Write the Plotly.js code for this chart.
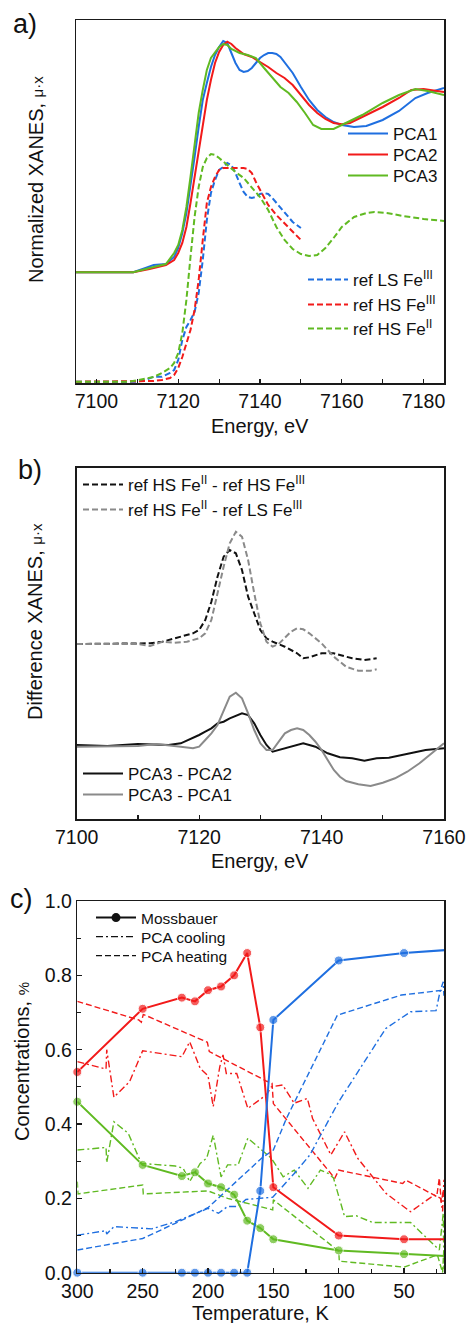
<!DOCTYPE html>
<html><head><meta charset="utf-8">
<script src="https://cdn.plot.ly/plotly-3.0.1.min.js"></script>
<style>html,body{margin:0;padding:0;background:#fff}#chart{width:468px;height:1323px}</style>
</head><body><div id="chart"></div>
<script>
// ---------- Panel a: normalized XANES (arbitrary offset units) ----------
const ePCA1 = [7095,7109,7112,7114,7117,7119,7120,7121,7122,7123,7124,7125,7126,7127,7128,7129,7130,7131,7132,7133,7134,7135,7136,7137,7138,7139,7140,7141,7142,7143,7144,7145,7146,7147,7148,7150,7152,7154,7156,7158,7160,7163,7166,7170,7174,7178,7181,7185];
const pca1 = [1.107,1.107,1.15,1.18,1.19,1.26,1.35,1.50,1.70,1.96,2.26,2.56,2.83,3.00,3.16,3.28,3.36,3.42,3.40,3.30,3.20,3.13,3.11,3.12,3.15,3.20,3.25,3.28,3.30,3.30,3.29,3.26,3.21,3.16,3.10,2.96,2.83,2.73,2.66,2.61,2.58,2.56,2.57,2.63,2.72,2.85,2.90,2.95];
const ePCA2 = [7095,7109,7113,7117,7119,7120,7121,7122,7123,7124,7125,7126,7127,7128,7129,7130,7131,7132,7133,7134,7136,7138,7140,7142,7144,7146,7148,7150,7152,7154,7156,7158,7160,7162,7166,7170,7174,7177,7180,7185];
const pca2 = [1.107,1.107,1.14,1.18,1.23,1.30,1.40,1.56,1.80,2.06,2.33,2.60,2.83,3.03,3.20,3.31,3.38,3.413,3.39,3.35,3.29,3.26,3.21,3.16,3.10,3.05,2.98,2.88,2.78,2.70,2.64,2.60,2.587,2.60,2.68,2.76,2.85,2.93,2.94,2.91];
const ePCA3 = [7095,7109,7114,7117,7119,7120,7121,7122,7123,7124,7125,7126,7127,7128,7129,7130,7131,7132,7133,7135,7137,7139,7141,7143,7145,7147,7149,7151,7153,7155,7158,7161,7165,7170,7174,7178,7181,7185];
const pca3 = [1.107,1.107,1.16,1.19,1.30,1.38,1.53,1.76,2.06,2.40,2.70,2.93,3.13,3.25,3.31,3.36,3.39,3.38,3.34,3.30,3.28,3.25,3.15,3.05,2.96,2.90,2.81,2.70,2.58,2.54,2.54,2.60,2.68,2.80,2.88,2.94,2.92,2.88];
const eRefLS3 = [7095,7110,7112,7114,7116,7118,7119,7120,7121,7122,7123,7124,7125,7126,7127,7128,7129,7130,7131,7132,7133,7134,7135,7136,7137,7138,7139,7140,7141,7142,7143,7144,7146,7148,7150];
const refLS3 = [0.013,0.013,0.03,0.063,0.063,0.10,0.13,0.23,0.43,0.56,0.63,0.71,0.90,1.23,1.63,1.90,2.03,2.13,2.16,2.20,2.18,2.10,2.00,1.91,1.86,1.85,1.86,1.89,1.90,1.89,1.85,1.80,1.70,1.61,1.55];
const eRefHS3 = [7095,7112,7114,7116,7118,7119,7120,7121,7122,7123,7124,7125,7126,7127,7128,7129,7130,7131,7134,7136,7137,7138,7139,7140,7141,7142,7144,7146,7148,7150];
const refHS3 = [0.013,0.013,0.02,0.03,0.05,0.08,0.15,0.26,0.40,0.53,0.73,1.03,1.43,1.80,1.96,2.06,2.13,2.15,2.15,2.15,2.14,2.10,2.01,1.93,1.85,1.78,1.68,1.60,1.51,1.43];
const eRefHS2 = [7095,7108,7110,7112,7114,7116,7118,7119,7120,7121,7122,7123,7124,7125,7126,7127,7128,7129,7130,7132,7134,7136,7138,7140,7142,7144,7146,7148,7150,7152,7154,7156,7158,7160,7163,7166,7168,7171,7175,7180,7185];
const refHS2 = [0.013,0.013,0.027,0.04,0.06,0.10,0.15,0.20,0.30,0.50,0.83,1.26,1.66,1.96,2.16,2.25,2.29,2.28,2.25,2.18,2.11,2.05,1.96,1.86,1.73,1.56,1.43,1.34,1.29,1.27,1.28,1.35,1.45,1.56,1.66,1.70,1.71,1.70,1.67,1.64,1.62];

// ---------- Panel b: difference XANES ----------
const eD1 = [7100,7112,7114,7116,7118,7119,7120,7121,7122,7123,7124,7125,7126,7127,7128,7129,7130,7131,7132,7134,7136,7137,7138,7140,7142,7143,7145,7147,7149];
const hs2MinusHs3 = [1.75,1.757,1.773,1.807,1.84,1.857,1.89,1.99,2.173,2.423,2.623,2.69,2.657,2.49,2.223,2.057,1.89,1.807,1.773,1.723,1.657,1.607,1.617,1.657,1.657,1.64,1.607,1.59,1.607];
const eD2 = [7100,7110,7112,7114,7116,7118,7120,7121,7122,7123,7124,7125,7126,7127,7128,7129,7130,7131,7132,7133,7134,7135,7136,7137,7138,7140,7142,7144,7146,7148,7149];
const hs2MinusLs3 = [1.75,1.75,1.73,1.773,1.763,1.773,1.807,1.857,1.99,2.257,2.523,2.757,2.873,2.823,2.59,2.257,1.957,1.773,1.723,1.75,1.807,1.873,1.907,1.897,1.857,1.757,1.623,1.523,1.483,1.483,1.497];
const eD3 = [7100,7105,7110,7115,7117,7119,7120,7121,7122,7123,7124,7125,7126,7127,7128,7129,7130,7131,7132,7133,7135,7137,7139,7141,7143,7145,7147,7149,7151,7153,7155,7157,7160];
const pca3MinusPca2 = [0.74,0.73,0.75,0.74,0.757,0.807,0.84,0.873,0.907,0.957,0.973,1.007,1.03,1.057,1.04,0.957,0.84,0.74,0.673,0.69,0.723,0.757,0.723,0.657,0.617,0.607,0.583,0.607,0.613,0.64,0.667,0.69,0.707];
const eD4 = [7100,7110,7113,7115,7117,7119,7120,7121,7122,7123,7124,7125,7126,7127,7128,7129,7130,7131,7132,7133,7134,7135,7136,7137,7138,7139,7140,7141,7142,7143,7144,7146,7148,7150,7152,7154,7156,7158,7160];
const pca3MinusPca1 = [0.723,0.73,0.75,0.74,0.723,0.707,0.723,0.79,0.857,0.94,1.09,1.223,1.263,1.207,1.057,0.89,0.757,0.69,0.69,0.773,0.857,0.89,0.907,0.89,0.84,0.773,0.69,0.59,0.49,0.423,0.38,0.347,0.33,0.363,0.407,0.473,0.557,0.657,0.757];

// ---------- Panel c: concentrations vs temperature ----------
const tMoss = [300,250,220,210,200,190,180,170,160,150,100,50,10];
const mossHS3 = [0.54,0.71,0.74,0.73,0.76,0.77,0.80,0.86,0.66,0.23,0.10,0.09,0.09];
const mossLS3 = [0,0,0,0,0,0,0,0,0.22,0.68,0.84,0.86,0.87];
const mossHS2 = [0.46,0.29,0.26,0.27,0.24,0.23,0.21,0.14,0.12,0.09,0.06,0.05,0.043];

const tCoolRed = [300,278,277.5,272,260,250,220,214,206,200,196,191,188.5,186,178,169.5,155.5,151.5,143,134,124,120,106,95.5,85.5,64,45,27,22,20.5,19.5];
const coolRed = [0.568,0.548,0.60,0.472,0.514,0.597,0.581,0.621,0.55,0.53,0.447,0.554,0.586,0.536,0.536,0.442,0.478,0.50,0.505,0.456,0.469,0.415,0.317,0.379,0.308,0.214,0.164,0.209,0.20,0.165,0.25];
const tHeatRed = [300,253,251,249.5,200.5,199,155,151,150,103,100,51,48.5,25,23,21.5,20];
const heatRed = [0.73,0.68,0.674,0.695,0.62,0.595,0.515,0.51,0.455,0.254,0.276,0.24,0.249,0.205,0.255,0.19,0.22];
const tCoolGreen = [300,278,277.5,272,261,251,225,219,214,206,201,196,190,185,177,169.5,151.5,142.5,134,123.5,114,108,104,95.5,86.5,74,45,23,20,19.5];
const coolGreen = [0.33,0.337,0.296,0.406,0.375,0.294,0.287,0.281,0.245,0.294,0.308,0.37,0.258,0.29,0.29,0.362,0.308,0.258,0.276,0.227,0.276,0.267,0.255,0.151,0.153,0.135,0.135,0.061,0.16,0.01];
const tHeatGreen = [300,299.5,250,249.5,200,185,167,150.5,150,100,99.5,50,24.5,20.5,19.6];
const heatGreen = [0.245,0.212,0.236,0.212,0.22,0.20,0.184,0.169,0.196,0.058,0.031,0.015,0.048,0.0,0.06];
const tCoolBlue = [300,278,277.5,272,243,225,200,192,185,177,171,150.5,134,122,100,83,64,45,25.5,22.5,20,19.5];
const coolBlue = [0.101,0.113,0.104,0.124,0.118,0.137,0.173,0.16,0.178,0.178,0.197,0.203,0.267,0.317,0.46,0.554,0.657,0.702,0.705,0.756,0.783,0.745];
const tHeatBlue = [300,250,225,200,159,150,140,115,101,52,23,20];
const heatBlue = [0.061,0.092,0.133,0.175,0.308,0.33,0.415,0.595,0.693,0.747,0.759,0.76];

const legendNamesA1 = ['PCA1','PCA2','PCA3'];
const legendNamesA2 = ['ref LS Fe<sup>III</sup>','ref HS Fe<sup>III</sup>','ref HS Fe<sup>II</sup>'];
const legendNamesB1 = ['ref HS Fe<sup>II</sup> - ref HS Fe<sup>III</sup>','ref HS Fe<sup>II</sup> - ref LS Fe<sup>III</sup>'];
const legendNamesB2 = ['PCA3 - PCA2','PCA3 - PCA1'];
const legendNamesC = ['Mossbauer','PCA cooling','PCA heating'];

// ---------- styling ----------
const BLUE = '#1f6fe0', RED = '#f21a1a', GREEN = '#60ba22', GRAY = '#8a8a8a', BLACK = '#111111';
const FONT = '"Liberation Sans", Arial, sans-serif';
const DASH = '6px,3px';
const DASHDOT = '7px,3px,2px,3px';
const W = 468, H = 1323;
const px = v => v / W, py = v => 1 - v / H;

// one legend box per entry so every entry sits where the reference puts it
const legendSlots = [];
function slot(xPix, yPix, size) {
  legendSlots.push({x: px(xPix), y: py(yPix), size: size});
  const n = legendSlots.length;
  return n === 1 ? 'legend' : 'legend' + n;
}

function ln(x, y, color, dash, width, xa, ya, name, legend) {
  return {type: 'scatter', mode: 'lines', x: x, y: y, xaxis: xa, yaxis: ya,
    line: {color: color, width: width, dash: dash || 'solid'}, name: name || '',
    showlegend: !!legend, legend: legend || 'legend', hoverinfo: 'skip'};
}

const traces = [
  ln(ePCA1, pca1, BLUE, 'solid', 2, 'x', 'y', legendNamesA1[0], slot(343, 134, 17)),
  ln(ePCA2, pca2, RED, 'solid', 2, 'x', 'y', legendNamesA1[1], slot(343, 155, 17)),
  ln(ePCA3, pca3, GREEN, 'solid', 2, 'x', 'y', legendNamesA1[2], slot(343, 176, 17)),
  ln(eRefLS3, refLS3, BLUE, DASH, 2, 'x', 'y', legendNamesA2[0], slot(303, 280, 17)),
  ln(eRefHS3, refHS3, RED, DASH, 2, 'x', 'y', legendNamesA2[1], slot(303, 305, 17)),
  ln(eRefHS2, refHS2, GREEN, DASH, 2, 'x', 'y', legendNamesA2[2], slot(303, 329, 17)),

  ln(eD1, hs2MinusHs3, BLACK, DASH, 2, 'x2', 'y2', legendNamesB1[0], slot(78, 485, 17)),
  ln(eD2, hs2MinusLs3, GRAY, DASH, 2, 'x2', 'y2', legendNamesB1[1], slot(78, 510, 17)),
  ln(eD3, pca3MinusPca2, BLACK, 'solid', 2, 'x2', 'y2', legendNamesB2[0], slot(78, 774, 17)),
  ln(eD4, pca3MinusPca1, GRAY, 'solid', 2, 'x2', 'y2', legendNamesB2[1], slot(78, 795, 17)),

  ln(tCoolRed, coolRed, RED, DASHDOT, 1.4, 'x3', 'y3'),
  ln(tHeatRed, heatRed, RED, DASH, 1.4, 'x3', 'y3'),
  ln(tCoolGreen, coolGreen, GREEN, DASHDOT, 1.4, 'x3', 'y3'),
  ln(tHeatGreen, heatGreen, GREEN, DASH, 1.4, 'x3', 'y3'),
  ln(tCoolBlue, coolBlue, BLUE, DASHDOT, 1.4, 'x3', 'y3'),
  ln(tHeatBlue, heatBlue, BLUE, DASH, 1.4, 'x3', 'y3')
];

const xMin = 19.2;
[[mossHS3, RED], [mossHS2, GREEN], [mossLS3, BLUE]].forEach(([vals, c]) => {
  traces.push({type: 'scatter', mode: 'lines+markers', x: tMoss, y: vals, xaxis: 'x3', yaxis: 'y3',
    line: {color: c, width: 2}, cliponaxis: false,
    marker: {color: c, size: tMoss.map(t => t > xMin ? 9 : 0)}, showlegend: false, hoverinfo: 'skip'});
});
// legend-only entries for panel c
traces.push({type: 'scatter', mode: 'lines+markers', x: [null], y: [null], xaxis: 'x3', yaxis: 'y3',
  line: {color: BLACK, width: 2}, marker: {color: BLACK, size: 9}, name: legendNamesC[0], legend: slot(91, 918, 15.5)});
traces.push({type: 'scatter', mode: 'lines', x: [null], y: [null], xaxis: 'x3', yaxis: 'y3',
  line: {color: BLACK, width: 1.4, dash: DASHDOT}, name: legendNamesC[1], legend: slot(91, 937, 15.5)});
traces.push({type: 'scatter', mode: 'lines', x: [null], y: [null], xaxis: 'x3', yaxis: 'y3',
  line: {color: BLACK, width: 1.4, dash: DASH}, name: legendNamesC[2], legend: slot(91, 956, 15.5)});

const axisBase = {showline: true, mirror: true, linewidth: 1.5, linecolor: '#1a1a1a', showgrid: false, zeroline: false,
  tickfont: {size: 19.5, color: '#111'}, tickcolor: '#1a1a1a', tickwidth: 1.2};

const layout = {
  width: W, height: H, margin: {l: 0, r: 0, t: 0, b: 0},
  paper_bgcolor: '#fff', plot_bgcolor: '#fff',
  font: {family: FONT, color: '#111', size: 17},
  xaxis: Object.assign({}, axisBase, {domain: [px(76), px(444)], anchor: 'y', range: [7095, 7185], tick0: 7100, dtick: 20,
    ticks: 'inside', ticklen: 4, minor: {dtick: 10, tick0: 7100, ticks: 'inside', ticklen: 4, tickwidth: 1.2, tickcolor: '#1a1a1a'}}),
  yaxis: Object.assign({}, axisBase, {domain: [py(383), py(20)], anchor: 'x', range: [0, 3.63], showticklabels: false, ticks: ''}),
  xaxis2: Object.assign({}, axisBase, {domain: [px(76.7), px(444)], anchor: 'y2', range: [7100, 7160], tick0: 7100, dtick: 20,
    ticks: 'inside', ticklen: 4, minor: {dtick: 10, tick0: 7100, ticks: 'inside', ticklen: 4, tickwidth: 1.2, tickcolor: '#1a1a1a'}}),
  yaxis2: Object.assign({}, axisBase, {domain: [py(819), py(467.7)], anchor: 'x2', range: [0, 3.513], showticklabels: false, ticks: ''}),
  xaxis3: Object.assign({}, axisBase, {domain: [px(77.3), px(444.3)], anchor: 'y3', range: [300, xMin], tick0: 0, dtick: 50,
    ticks: 'inside', ticklen: 5, minor: {dtick: 25, ticks: 'inside', ticklen: 3.5, tickwidth: 1.2, tickcolor: '#1a1a1a'}}),
  yaxis3: Object.assign({}, axisBase, {domain: [py(1272.7), py(901)], anchor: 'x3', range: [0, 1], tick0: 0, dtick: 0.2,
    tickformat: '.1f', ticks: 'inside', ticklen: 5, minor: {dtick: 0.1, ticks: 'inside', ticklen: 3.5, tickwidth: 1.2, tickcolor: '#1a1a1a'}}),
  annotations: [
    {text: 'a)', x: px(25), y: py(24), xref: 'paper', yref: 'paper', showarrow: false, font: {size: 27}, xanchor: 'center', yanchor: 'middle'},
    {text: 'b)', x: px(29.5), y: py(469.5), xref: 'paper', yref: 'paper', showarrow: false, font: {size: 27}, xanchor: 'center', yanchor: 'middle'},
    {text: 'c)', x: px(21.5), y: py(899), xref: 'paper', yref: 'paper', showarrow: false, font: {size: 27}, xanchor: 'center', yanchor: 'middle'},
    {text: 'Normalized XANES, <span style="font-size:15px">μ·x</span>', textangle: -90, x: px(36), y: py(180), xref: 'paper', yref: 'paper', showarrow: false, font: {size: 20}, xanchor: 'center', yanchor: 'middle'},
    {text: 'Energy, eV', x: px(260), y: py(426), xref: 'paper', yref: 'paper', showarrow: false, font: {size: 20}, xanchor: 'center', yanchor: 'middle'},
    {text: 'Difference XANES, <span style="font-size:15px">μ·x</span>', textangle: -90, x: px(35), y: py(622), xref: 'paper', yref: 'paper', showarrow: false, font: {size: 20}, xanchor: 'center', yanchor: 'middle'},
    {text: 'Energy, eV', x: px(260), y: py(861), xref: 'paper', yref: 'paper', showarrow: false, font: {size: 20}, xanchor: 'center', yanchor: 'middle'},
    {text: 'Concentrations, <span style="font-size:15px">%</span>', textangle: -90, x: px(22), y: py(1062), xref: 'paper', yref: 'paper', showarrow: false, font: {size: 20}, xanchor: 'center', yanchor: 'middle'},
    {text: 'Temperature, K', x: px(260), y: py(1313), xref: 'paper', yref: 'paper', showarrow: false, font: {size: 20}, xanchor: 'center', yanchor: 'middle'}
  ]
};

legendSlots.forEach((s, i) => {
  layout[i === 0 ? 'legend' : 'legend' + (i + 1)] = {
    x: s.x, y: s.y, xanchor: 'left', yanchor: 'middle', bgcolor: 'rgba(0,0,0,0)', borderwidth: 0,
    itemwidth: 40, tracegroupgap: 0, itemclick: false, itemdoubleclick: false, font: {size: s.size}
  };
});

Plotly.newPlot('chart', traces, layout, {staticPlot: true, displayModeBar: false});
</script></body></html>
